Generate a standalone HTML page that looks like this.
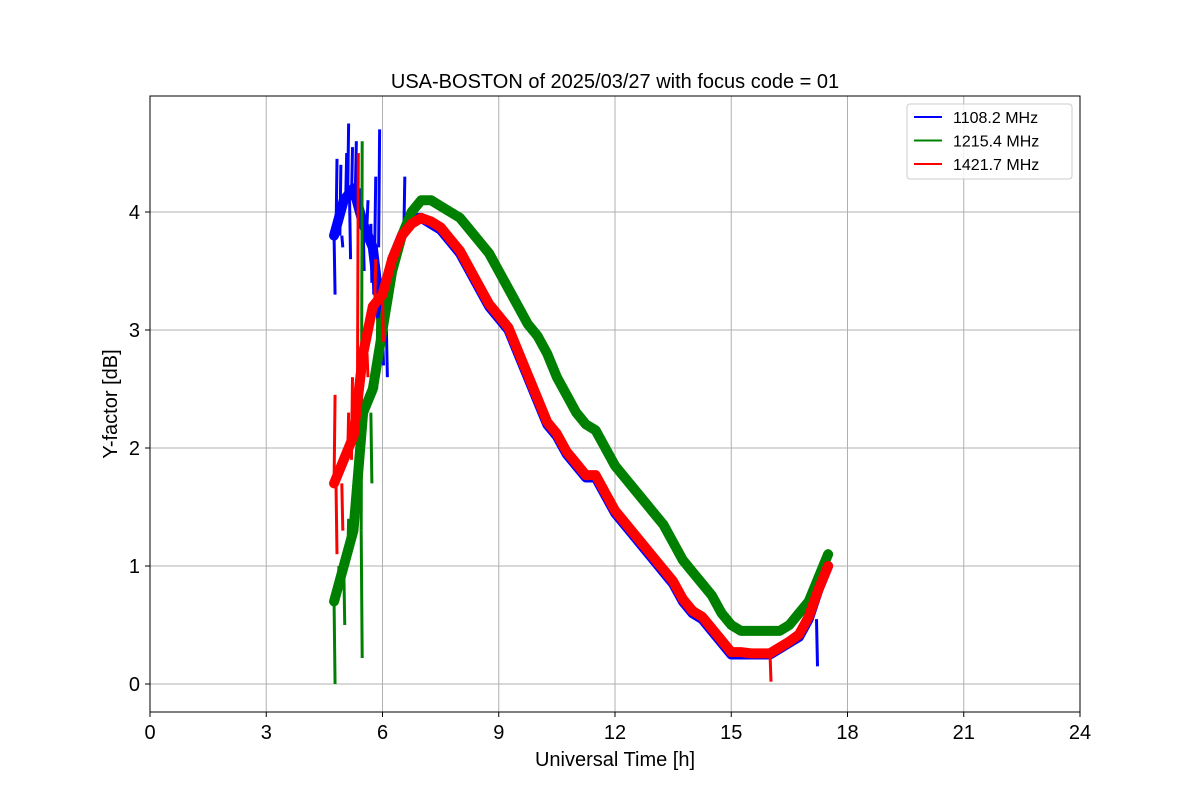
<!DOCTYPE html>
<html><head><meta charset="utf-8"><style>
body{margin:0;background:#fff;}
svg text{font-family:"Liberation Sans","DejaVu Sans",sans-serif;}
</style></head><body>
<svg id="chart" width="1200" height="800" xmlns="http://www.w3.org/2000/svg">
<rect width="1200" height="800" fill="#fff"/>
<g id="grid"></g><g id="series"></g><g id="axes"></g>
</svg>
<script>
const times=[4.75,5,5.25,5.5,5.75,6,6.25,6.5,6.75,7,7.25,7.5,7.75,8,8.25,8.5,8.75,9,9.25,9.5,9.75,10,10.25,10.5,10.75,11,11.25,11.5,11.75,12,12.25,12.5,12.75,13,13.25,13.5,13.75,14,14.25,14.5,14.75,15,15.25,15.5,15.75,16,16.25,16.5,16.75,17,17.25,17.5];
const blueVals=[3.8,4.1,4.2,3.9,3.7,3.0,3.6,3.8,3.95,3.95,3.9,3.85,3.75,3.65,3.5,3.35,3.2,3.1,3.0,2.8,2.6,2.4,2.2,2.1,1.95,1.85,1.75,1.75,1.6,1.45,1.35,1.25,1.15,1.05,0.95,0.85,0.7,0.6,0.55,0.45,0.35,0.25,0.25,0.25,0.25,0.25,0.3,0.35,0.4,0.55,0.8,1.0];
const greenVals=[0.7,1.0,1.3,2.3,2.5,3.0,3.5,3.8,4.0,4.1,4.1,4.05,4.0,3.95,3.85,3.75,3.65,3.5,3.35,3.2,3.05,2.95,2.8,2.6,2.45,2.3,2.2,2.15,2.0,1.85,1.75,1.65,1.55,1.45,1.35,1.2,1.05,0.95,0.85,0.75,0.6,0.5,0.45,0.45,0.45,0.45,0.45,0.5,0.6,0.7,0.9,1.1];
const redVals=[1.7,1.9,2.1,2.8,3.2,3.3,3.6,3.8,3.9,3.95,3.92,3.87,3.77,3.67,3.52,3.37,3.22,3.12,3.02,2.82,2.62,2.42,2.22,2.12,1.97,1.87,1.77,1.77,1.62,1.47,1.37,1.27,1.17,1.07,0.97,0.87,0.72,0.62,0.57,0.47,0.37,0.27,0.27,0.26,0.26,0.26,0.31,0.36,0.42,0.57,0.8,1.0];
const blueSpikes=[[4.75,3.3],[4.8,4.45],[4.9,4.4],[4.95,3.7],[5.05,4.5],[5.1,4.75],[5.15,3.6],[5.2,4.55],[5.3,4.6],[5.4,4.1],[5.5,3.5],[5.6,4.1],[5.7,3.4],[5.75,3.3],[5.8,4.3],[5.9,4.7],[6.0,2.7],[6.1,2.6],[6.55,4.3],[17.2,0.15]];
const greenSpikes=[[4.75,0.0],[4.85,1.0],[5.0,0.5],[5.1,1.4],[5.45,4.6],[5.45,0.22],[5.6,2.4],[5.7,1.7],[5.85,3.1]];
const redSpikes=[[4.75,2.45],[4.8,1.1],[4.95,1.3],[5.1,2.3],[5.2,2.6],[5.35,4.5],[5.6,2.6],[5.8,3.6],[6.0,2.9],[16.0,0.02]];
const xTicks=[0,3,6,9,12,15,18,21,24];
const yTicks=[0,1,2,3,4];
const legendLabels=["1108.2 MHz","1215.4 MHz","1421.7 MHz"];
const colors=["#0000ff","#008000","#ff0000"];

const L=150,R=1080,T=96,B=712;
const X=t=>L+(t-0)/24*(R-L);
const Y=v=>684-v*118;
const NS="http://www.w3.org/2000/svg";
function mk(tag,attrs,parent,txt){const e=document.createElementNS(NS,tag);for(const k in attrs)e.setAttribute(k,attrs[k]);if(txt!==undefined)e.textContent=txt;parent.appendChild(e);return e;}
const grid=document.getElementById('grid'),series=document.getElementById('series'),axes=document.getElementById('axes');
xTicks.forEach(t=>{const l=mk('line',{x1:X(t),x2:X(t),y1:T,y2:B,stroke:'#b0b0b0','stroke-width':1},grid);

mk('line',{x1:X(t),x2:X(t),y1:B,y2:B+5,stroke:'#000'},axes);
const tx=mk('text',{x:X(t),y:B+27,'text-anchor':'middle','font-size':20},axes,String(t));
});
yTicks.forEach(v=>{const l=mk('line',{x1:L,x2:R,y1:Y(v),y2:Y(v),stroke:'#b0b0b0','stroke-width':1},grid);

mk('line',{x1:L-5,x2:L,y1:Y(v),y2:Y(v),stroke:'#000'},axes);
const tx=mk('text',{x:L-10,y:Y(v)+7,'text-anchor':'end','font-size':20},axes,String(v));
});
const all=[[blueVals,blueSpikes],[greenVals,greenSpikes],[redVals,redSpikes]];
all.forEach((s,i)=>{const g=mk('g',{},series);


const pts=times.map((t,j)=>X(t)+','+Y(s[0][j])).join(' ');
mk('polyline',{points:pts,fill:'none',stroke:colors[i],'stroke-width':10,'stroke-linejoin':'round','stroke-linecap':'round'},g);
s[1].forEach(([t,v])=>{let j=0;while(j<times.length-1&&times[j+1]<=t)j++;
const base=s[0][j];mk('line',{x1:X(t),x2:X(t)+1,y1:Y(base),y2:Y(v),stroke:colors[i],'stroke-width':3},g);});});
const frame=mk('rect',{x:L,y:T,width:R-L,height:B-T,fill:'none',stroke:'#000','stroke-width':1},axes);

const title=mk('text',{x:615,y:88,'text-anchor':'middle','font-size':20},axes,'USA-BOSTON of 2025/03/27 with focus code = 01');

const xt=mk('text',{x:615,y:766,'text-anchor':'middle','font-size':20},axes,'Universal Time [h]');

const yt=mk('text',{x:117,y:404,'text-anchor':'middle','font-size':20,transform:'rotate(-90 117 404)'},axes,'Y-factor [dB]');

const lg=mk('g',{},axes);

mk('rect',{x:907,y:104,width:165,height:75,rx:3,fill:'#fff','fill-opacity':0.8,stroke:'#ccc'},lg);
legendLabels.forEach((lab,i)=>{const e=mk('g',{},lg);

const y=117+i*23.5;mk('line',{x1:914,x2:942,y1:y,y2:y,stroke:colors[i],'stroke-width':2},e);
mk('text',{x:953,y:y+6,'font-size':16},e,lab);});
</script>
</body></html>
